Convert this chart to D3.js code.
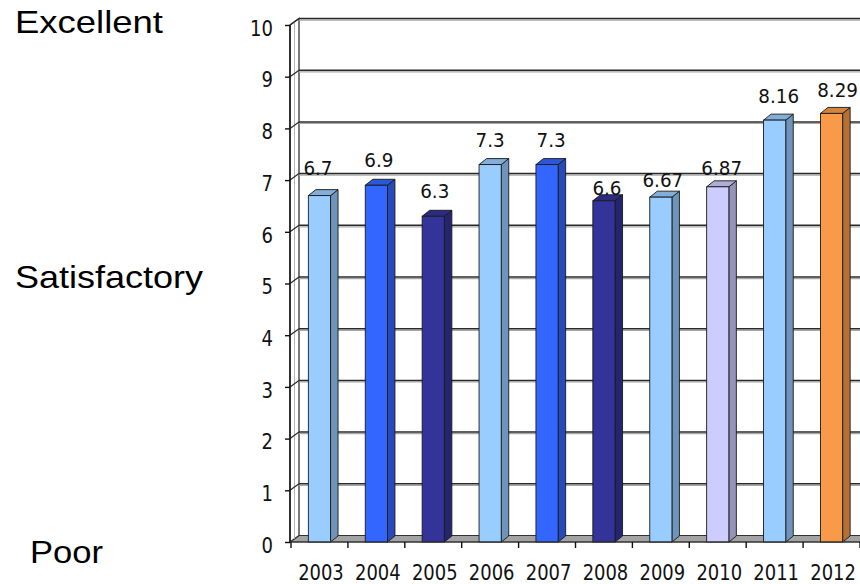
<!DOCTYPE html>
<html>
<head>
<meta charset="utf-8">
<script src="https://cdn.jsdelivr.net/npm/d3@7/dist/d3.min.js"></script>
<style>
  html, body { margin: 0; padding: 0; background: #fff; overflow: hidden; }
  svg { display: block; }
</style>
</head>
<body>
<svg id="chart" width="860" height="584"></svg>
<script>
// ---- data ----
const years = ["2003", "2004", "2005", "2006", "2007", "2008", "2009", "2010", "2011", "2012"];
const scores = [6.7, 6.9, 6.3, 7.3, 7.3, 6.6, 6.67, 6.87, 8.16, 8.29];
const scoreLabels = ["6.7", "6.9", "6.3", "7.3", "7.3", "6.6", "6.67", "6.87", "8.16", "8.29"];
const yTicks = [0, 1, 2, 3, 4, 5, 6, 7, 8, 9, 10];
const ratingLabels = ["Excellent", "Satisfactory", "Poor"];

// ---- styling / layout ----
const barColors = ["#99ccff", "#3366ff", "#333399", "#99ccff", "#3366ff",
                   "#333399", "#99ccff", "#ccccff", "#99ccff", "#f99a4a"];
// value label placement relative to the top of each bar (px)
const labelLift = [20.5, 18.5, 18.5, 17.5, 17.5, 6, 10.5, 12, 17, 16];
const labelShift = [-1.5, 2.5, 1.5, 0, 4, 3, 2, 4, 4, 6];
const ratingLayout = [
  { x: 15, y: 33, w: 148 },
  { x: 15, y: 288, w: 188 },
  { x: 30, y: 563, w: 73 }
];

const svg = d3.select("#chart");
const W = 860, H = 584;
svg.append("rect").attr("width", W).attr("height", H).attr("fill", "#fff");

// scales
const y = d3.scaleLinear().domain([0, 10]).range([542, 25]);
const x = d3.scaleBand().domain(years).range([291, 860]).padding(0);
const step = x.step();
const barW = step * 0.39;

// 3-D offsets: walls (back plane) and bar depth
const WDX = 9, WDY = -6.5;
const BDX = 7.5, BDY = -6;
const axisX = 290;

const numFont = "'DejaVu Sans', Verdana, sans-serif";

// ---- walls ----
const wall = svg.append("g");

// floor
const fy = y(0);
wall.append("path")
  .attr("d", `M${axisX},${fy} L${axisX + WDX},${fy + WDY} L${W + 20},${fy + WDY} L${W + 20},${fy} Z`)
  .attr("fill", "#a3a3a3").attr("stroke", "#333").attr("stroke-width", 1.2);

// left wall
wall.append("path")
  .attr("d", `M${axisX},${y(10)} L${axisX + WDX},${y(10) + WDY} L${axisX + WDX},${fy + WDY} L${axisX},${fy} Z`)
  .attr("fill", "#fff").attr("stroke", "#333").attr("stroke-width", 1.3);
wall.append("line")
  .attr("x1", axisX + WDX / 2).attr("x2", axisX + WDX / 2)
  .attr("y1", y(10) + WDY / 2).attr("y2", fy + WDY / 2)
  .attr("stroke", "#b5b5b5").attr("stroke-width", 1);

// gridlines on the back wall (with a soft shadow line)
const grid = wall.append("g");
yTicks.filter(t => t > 0).forEach(t => {
  const gy = y(t) + WDY;
  grid.append("line")
    .attr("x1", axisX + WDX).attr("x2", W + 20)
    .attr("y1", gy + 1.6).attr("y2", gy + 1.6)
    .attr("stroke", "#a8a8a8").attr("stroke-width", 1.2);
  grid.append("line")
    .attr("x1", axisX + WDX).attr("x2", W + 20)
    .attr("y1", gy).attr("y2", gy)
    .attr("stroke", "#2a2a2a").attr("stroke-width", 1.5);
  // connector across the side wall
  grid.append("line")
    .attr("x1", axisX).attr("x2", axisX + WDX)
    .attr("y1", y(t)).attr("y2", gy)
    .attr("stroke", "#2a2a2a").attr("stroke-width", 1.2);
});

// ---- y axis ----
const yK = 0.88, yPad = 17;
const yAxis = d3.axisLeft(y).tickValues(yTicks).tickSize(5).tickPadding(12)
  .tickFormat(d3.format("d"));
const yG = svg.append("g").attr("transform", `translate(${axisX},0)`).call(yAxis);
yG.select(".domain").remove();
yG.selectAll(".tick line").attr("stroke", "#111").attr("stroke-width", 1.4);
yG.selectAll(".tick text")
  .attr("font-family", numFont).attr("font-size", 20.5).attr("fill", "#111")
  .attr("x", -yPad / yK).attr("dy", "0.5em")
  .attr("transform", `scale(${yK},1)`);

// ---- bars ----
const bars = svg.append("g");
years.forEach((yr, i) => {
  const v = scores[i];
  const c = d3.color(barColors[i]);
  const x0 = x(yr) + (step - barW) / 2;
  const x1 = x0 + barW;
  const yt = y(v), yb = y(0);
  const g = bars.append("g");
  // side face
  g.append("path")
    .attr("d", `M${x1},${yb} L${x1},${yt} L${x1 + BDX},${yt + BDY} L${x1 + BDX},${yb + BDY} Z`)
    .attr("fill", c.darker(0.9)).attr("stroke", "#1a1a1a").attr("stroke-width", 0.9);
  // top face
  g.append("path")
    .attr("d", `M${x0},${yt} L${x0 + BDX},${yt + BDY} L${x1 + BDX},${yt + BDY} L${x1},${yt} Z`)
    .attr("fill", c.darker(0.45)).attr("stroke", "#1a1a1a").attr("stroke-width", 0.9);
  // front face
  g.append("rect")
    .attr("x", x0).attr("y", yt).attr("width", barW).attr("height", yb - yt)
    .attr("fill", c).attr("stroke", "#1a1a1a").attr("stroke-width", 0.9);
  // value label
  g.append("text")
    .attr("transform", `translate(${x0 + barW / 2 + labelShift[i]},${yt - labelLift[i]}) scale(0.94,1)`)
    .attr("text-anchor", "middle")
    .attr("font-family", numFont).attr("font-size", 19.5).attr("fill", "#111")
    .text(scoreLabels[i]);
});

// front axis line and floor front edge
svg.append("line")
  .attr("x1", axisX).attr("x2", axisX).attr("y1", y(10)).attr("y2", y(0))
  .attr("stroke", "#111").attr("stroke-width", 1.4);
svg.append("line")
  .attr("x1", axisX).attr("x2", W + 20).attr("y1", y(0)).attr("y2", y(0))
  .attr("stroke", "#333").attr("stroke-width", 1.2);

// ---- x axis ----
const boundaries = years.map(yr => x(yr)).concat([x(years[years.length - 1]) + step]);
svg.append("g").selectAll("line").data(boundaries).join("line")
  .attr("x1", d => d).attr("x2", d => d)
  .attr("y1", y(0)).attr("y2", y(0) + 6)
  .attr("stroke", "#111").attr("stroke-width", 1.4);

const xAxis = d3.axisBottom(x).tickSize(0).tickPadding(23.5);
const xG = svg.append("g").attr("transform", `translate(1.5,${y(0)})`).call(xAxis);
xG.select(".domain").remove();
xG.selectAll(".tick text")
  .attr("font-family", numFont).attr("font-size", 20.5).attr("fill", "#111")
  .attr("transform", "scale(0.875,1)");

// ---- rating scale labels ----
svg.append("g").selectAll("text").data(ratingLabels).join("text")
  .attr("x", (d, i) => ratingLayout[i].x)
  .attr("y", (d, i) => ratingLayout[i].y)
  .attr("textLength", (d, i) => ratingLayout[i].w)
  .attr("lengthAdjust", "spacingAndGlyphs")
  .attr("font-family", "'Liberation Sans', Arial, sans-serif")
  .attr("font-size", 32).attr("fill", "#000")
  .text(d => d);
</script>
</body>
</html>
